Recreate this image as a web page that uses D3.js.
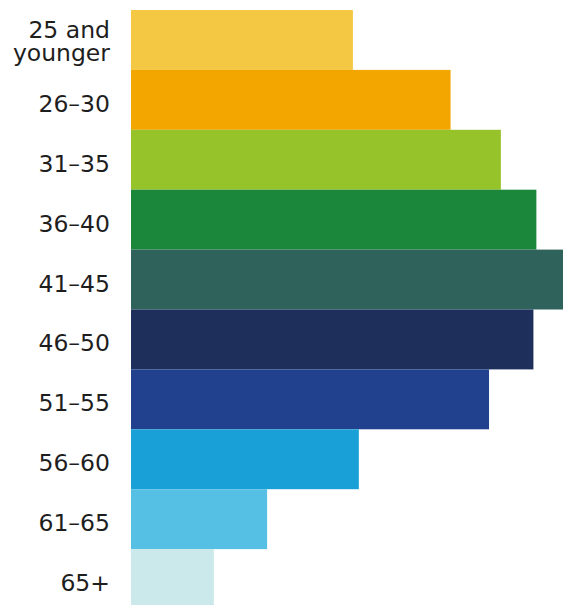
<!DOCTYPE html>
<html>
<head>
<meta charset="utf-8">
<script src="https://cdn.jsdelivr.net/npm/d3@7"></script>
<style>
  body { margin: 0; background: #fff; }
  svg { display: block; }
</style>
</head>
<body>
<svg id="chart" width="563" height="605"></svg>
<script>
// age groups, share of respondents (%)
let ageGroups = ['25 and younger', '26–30', '31–35', '36–40', '41–45', '46–50', '51–55', '56–60', '61–65', '65+']
let shares = [7.5, 10.8, 12.5, 13.7, 14.6, 13.6, 12.1, 7.7, 4.6, 2.8]
let barColors = ['#f4c842', '#f4a600', '#97c32a', '#1b873a', '#2e625b', '#1e2f5c', '#21418f', '#19a1d7', '#55c0e3', '#cbe8ea']

let data = ageGroups.map((g, i) => ({ group: g, value: shares[i], color: barColors[i] }))

let svg = d3.select('#chart')

let y = d3.scaleBand()
  .domain(ageGroups)
  .range([10, 609])
  .padding(0)

let x = d3.scaleLinear()
  .domain([0, d3.max(shares)])
  .range([131, 563])

svg.append('g')
  .attr('id', 'bars')
  .selectAll('rect')
  .data(data)
  .join('rect')
  .attr('x', x(0))
  .attr('y', d => y(d.group))
  .attr('width', d => x(d.value) - x(0))
  .attr('height', y.bandwidth())
  .style('fill', d => d.color)

// labels, first one wraps onto two lines
let labels = svg.append('g')
  .attr('id', 'labels')
  .selectAll('text')
  .data(data)
  .join('text')
  .attr('x', 110)
  .attr('y', d => y(d.group) + y.bandwidth() / 2)
  .attr('text-anchor', 'end')
  .style('font-family', '"DejaVu Sans", sans-serif')
  .style('font-size', '23.5px')
  .style('fill', '#1e1e1e')

labels.each(function (d) {
  let lines = d.group === '25 and younger' ? ['25 and', 'younger'] : [d.group]
  let t = d3.select(this)
  lines.forEach((line, i) => {
    t.append('tspan')
      .attr('x', 110)
      .attr('dy', i === 0 ? (lines.length === 1 ? 12 : -2) : 23)
      .text(line)
  })
})
</script>
</body>
</html>
